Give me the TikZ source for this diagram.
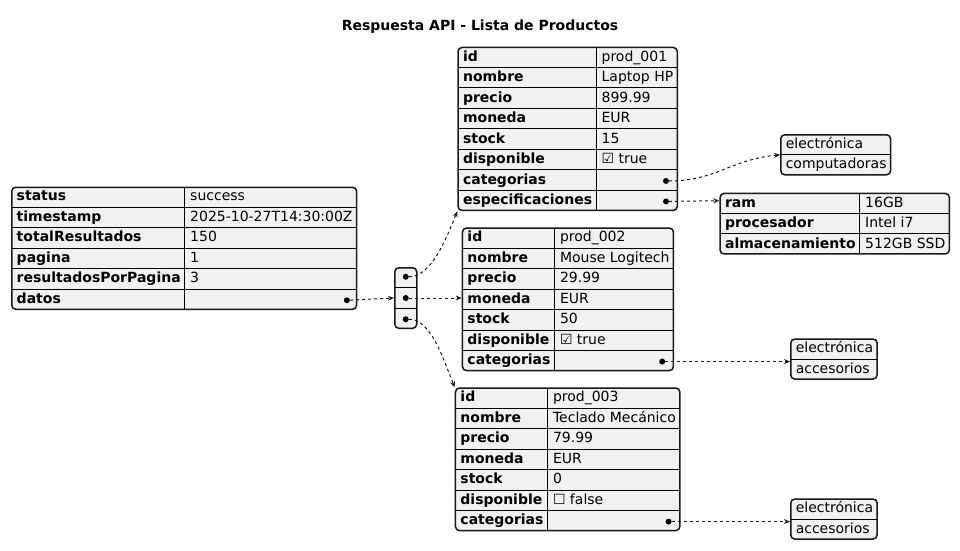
\documentclass[tikz,border=0pt]{standalone}
\usepackage{fontspec}
\setmainfont{DejaVu Sans}
\usepackage{tikz}
\usetikzlibrary{positioning,arrows.meta,calc}
\setlength{\arrayrulewidth}{1pt}
\definecolor{rowgray}{HTML}{F1F1F1}
\definecolor{edgegray}{HTML}{181818}
% padded column specs
\newcommand{\kv}{@{\kern5pt}l@{\kern4pt}|@{\kern5pt}l@{\kern4pt}}
\newcommand{\lst}{@{\kern5pt}l@{\kern4pt}}

\begin{document}
\begin{tikzpicture}[
  x=1pt, y=-1pt,
  tbl/.style={draw=edgegray,fill=rowgray,line width=1.5pt,rounded corners=4pt,inner sep=0pt,anchor=north west,font=\fontsize{14}{19.5}\selectfont},
  jdot/.style={circle,fill=black,inner sep=0pt,minimum size=6pt},
  link/.style={-{Stealth[length=6pt,width=5pt,inset=2pt]},dash pattern=on 3pt off 3pt,line width=1pt,edgegray}
]
\useasboundingbox (0,0) rectangle (960,550);
\node[font=\bfseries\fontsize{14}{16}\selectfont] (title) at (480,27) {Respuesta API - Lista de Productos};

% root object
\node[tbl] (resp) at (11,186.5) {\begin{tabular}{\kv}
\textbf{status} & success\\\hline
\textbf{timestamp} & 2025-10-27T14:30:00Z\\\hline
\textbf{totalResultados} & 150\\\hline
\textbf{pagina} & 1\\\hline
\textbf{resultadosPorPagina} & 3\\\hline
\textbf{datos} & \\
\end{tabular}};
\node[tbl] (arr) at (394,267) {\begin{tabular}{@{}c@{}}
\rule{22pt}{0pt}\\\hline
\\\hline
\\
\end{tabular}};

% products
\node[tbl] (prod1) at (457.3,46.7) {\begin{tabular}{\kv}
\textbf{id} & prod\_001\\\hline
\textbf{nombre} & Laptop HP\\\hline
\textbf{precio} & 899.99\\\hline
\textbf{moneda} & EUR\\\hline
\textbf{stock} & 15\\\hline
\textbf{disponible} & ☑ true\\\hline
\textbf{categorias} & \\\hline
\textbf{especificaciones} & \\
\end{tabular}};
\node[tbl] (prod2) at (461.7,227.3) {\begin{tabular}{\kv}
\textbf{id} & prod\_002\\\hline
\textbf{nombre} & Mouse Logitech\\\hline
\textbf{precio} & 29.99\\\hline
\textbf{moneda} & EUR\\\hline
\textbf{stock} & 50\\\hline
\textbf{disponible} & ☑ true\\\hline
\textbf{categorias} & \\
\end{tabular}};
\node[tbl] (prod3) at (454.7,387.3) {\begin{tabular}{\kv}
\textbf{id} & prod\_003\\\hline
\textbf{nombre} & Teclado Mecánico\\\hline
\textbf{precio} & 79.99\\\hline
\textbf{moneda} & EUR\\\hline
\textbf{stock} & 0\\\hline
\textbf{disponible} & ☐ false\\\hline
\textbf{categorias} & \\
\end{tabular}};

% categories and specs
\node[tbl] (cats1) at (780,134) {\begin{tabular}{\lst}
electrónica\\\hline
computadoras\\
\end{tabular}};
\node[tbl] (specs) at (719.3,192.7) {\begin{tabular}{\kv}
\textbf{ram} & 16GB\\\hline
\textbf{procesador} & Intel i7\\\hline
\textbf{almacenamiento} & 512GB SSD\\
\end{tabular}};
\node[tbl] (cats2) at (790,338.3) {\begin{tabular}{\lst}
electrónica\\\hline
accesorios\\
\end{tabular}};
\node[tbl] (cats3) at (790,498.3) {\begin{tabular}{\lst}
electrónica\\\hline
accesorios\\
\end{tabular}};

% dots
\node[jdot] (datos) at ($(resp.south east)+(-10.5,-9.75)$) {};
\node[jdot] (el1) at ($(arr.north)+(0,9.75)$) {};
\node[jdot] (el2) at (arr.center) {};
\node[jdot] (el3) at ($(arr.south)+(0,-9.75)$) {};
\node[jdot] (cat1) at ($(prod1.south east)+(-12,-30.25)$) {};
\node[jdot] (esp1) at ($(prod1.south east)+(-12,-9.75)$) {};
\node[jdot] (cat2) at ($(prod2.south east)+(-12,-9.75)$) {};
\node[jdot] (cat3) at ($(prod3.south east)+(-12,-9.75)$) {};

\draw[link] (datos) -- (arr.west);
\draw[link] (el1) .. controls +(25,0) and +(-12,30) .. (prod1.south west);
\draw[link] (el2) -- (el2 -| prod2.west);
\draw[link] (el3) .. controls +(25,0) and +(-12,-30) .. (prod3.north west);
\draw[link] (cat1) .. controls +(50,0) and +(-50,5) .. (cats1.west);
\draw[link] (esp1) -- ($(specs.north west)+(0,8)$);
\draw[link] (cat2) -- (cat2 -| cats2.west);
\draw[link] (cat3) -- (cat3 -| cats3.west);
\end{tikzpicture}
\end{document}
